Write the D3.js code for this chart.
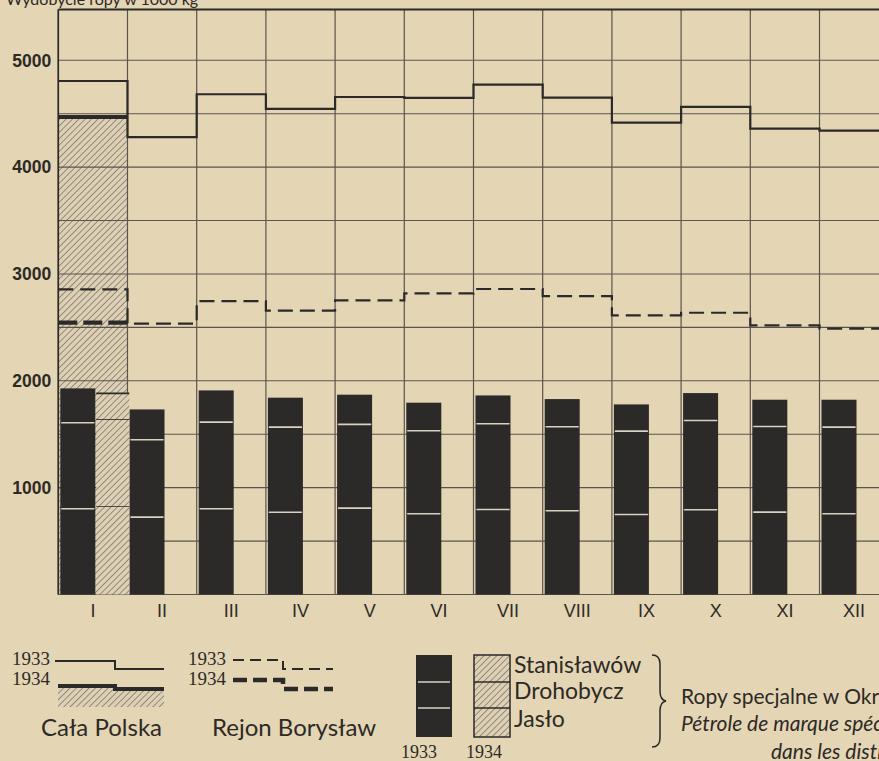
<!DOCTYPE html>
<html>
<head>
<meta charset="utf-8">
<script src="https://cdn.jsdelivr.net/npm/d3@7"></script>
<style>
  body { margin: 0; background: #e4d5b5; overflow: hidden; }
  svg { display: block; }
  text { fill: #2d2a26; }
</style>
</head>
<body>
<svg width="879" height="761"></svg>
<script>
// months
var months = ["I","II","III","IV","V","VI","VII","VIII","IX","X","XI","XII"];
// Cała Polska (step lines)
var calaPolska1933 = [4806, 4280, 4682, 4545, 4656, 4647, 4772, 4650, 4417, 4563, 4360, 4342];
var calaPolska1934 = [4469];
// Rejon Borysław (dashed step lines)
var borys1933 = [2856, 2535, 2746, 2656, 2753, 2818, 2859, 2793, 2612, 2637, 2519, 2488];
var borys1934 = [2544];
// bars: Okręgi, 1933
var jaslo1933 = [802, 724, 802, 770, 808, 756, 796, 784, 749, 793, 771, 756];
var drohobycz1933 = [805, 724, 811, 796, 784, 777, 802, 786, 780, 836, 802, 810];
var stanislawow1933 = [322, 284, 297, 276, 278, 262, 265, 259, 250, 256, 250, 257];
// bars 1934 (only January)
var jaslo1934 = [826];
var drohobycz1934 = [815];
var stanislawow1934 = [241];
var yTicks = [1000, 2000, 3000, 4000, 5000];

var ink = "#2b2a29", grid = "#5b544c";

var svg = d3.select("svg");
var defs = svg.append("defs");
var pat = defs.append("pattern").attr("id","hatch").attr("patternUnits","userSpaceOnUse")
  .attr("width",4.5).attr("height",4.5).attr("patternTransform","rotate(45)");
pat.append("rect").attr("width",4.5).attr("height",4.5).attr("fill","#ddd0b4");
pat.append("line").attr("x1",0).attr("y1",0).attr("x2",0).attr("y2",4.5)
  .attr("stroke","#6e665c").attr("stroke-width",1.3);

var x = d3.scaleBand().domain(months).range([58.3, 58.3 + 12*69.2]);
var y = d3.scaleLinear().domain([0, 5475]).range([594.5, 9.5]);
var bw = x.bandwidth();

// top text (cut off in the original)
svg.append("text").attr("x",6).attr("y",5).attr("font-family","Lato").attr("font-size",16)
  .text("Wydobycie ropy w 1000 kg");

// 1934 Cała Polska hatched area (behind grid)
var stepPts = function(arr){
  var p = arr.map(function(v,i){ return [x(months[i]), v]; });
  p.push([x(months[arr.length-1]) + bw, arr[arr.length-1]]);
  return p;
};
svg.append("path").datum(stepPts(calaPolska1934))
  .attr("d", d3.area().curve(d3.curveStepAfter).x(d=>d[0]).y0(y(0)).y1(d=>y(d[1])))
  .attr("fill","url(#hatch)");

// grid
var gridG = svg.append("g");
gridG.selectAll("line.h").data(d3.range(0, 5001, 500)).enter().append("line")
  .attr("x1", x.range()[0]).attr("x2", x.range()[1])
  .attr("y1", d=>y(d)).attr("y2", d=>y(d))
  .attr("stroke", grid).attr("stroke-width", 1.1);
gridG.selectAll("line.v").data(months.map(m=>x(m)).concat([x.range()[1]])).enter().append("line")
  .attr("x1", d=>d).attr("x2", d=>d).attr("y1", y(5475)).attr("y2", y(0))
  .attr("stroke", grid).attr("stroke-width", 1.2);
// frame
svg.append("line").attr("x1",x.range()[0]).attr("x2",x.range()[1]).attr("y1",y(5475)).attr("y2",y(5475))
  .attr("stroke",ink).attr("stroke-width",1.8);
svg.append("line").attr("x1",x.range()[0]).attr("x2",x.range()[0]).attr("y1",y(5475)).attr("y2",y(0))
  .attr("stroke",ink).attr("stroke-width",1.6);

// step lines
var stepLine = d3.line().curve(d3.curveStepAfter).x(d=>d[0]).y(d=>y(d[1]));
svg.append("path").datum(stepPts(calaPolska1933)).attr("d", stepLine)
  .attr("fill","none").attr("stroke",ink).attr("stroke-width",2.2);
svg.append("path").datum(stepPts(calaPolska1934)).attr("d", stepLine)
  .attr("fill","none").attr("stroke",ink).attr("stroke-width",4);
svg.append("path").datum(stepPts(borys1933)).attr("d", stepLine)
  .attr("fill","none").attr("stroke",ink).attr("stroke-width",2.2).attr("stroke-dasharray","15,7");
svg.append("path").datum(stepPts(borys1934)).attr("d", stepLine)
  .attr("fill","none").attr("stroke",ink).attr("stroke-width",4.2).attr("stroke-dasharray","19,6");

// bars
var keys = ["jaslo","drohobycz","stanislawow"];
var rows33 = months.map(function(m,i){ return {m:m, jaslo:jaslo1933[i], drohobycz:drohobycz1933[i], stanislawow:stanislawow1933[i]}; });
var rows34 = jaslo1934.map(function(v,i){ return {m:months[i], jaslo:jaslo1934[i], drohobycz:drohobycz1934[i], stanislawow:stanislawow1934[i]}; });
var st33 = d3.stack().keys(keys)(rows33);
var st34 = d3.stack().keys(keys)(rows34);

var b33 = svg.append("g");
st33.forEach(function(layer, li){
  b33.selectAll("rect.l"+li).data(layer).enter().append("rect")
    .attr("x", d=>x(d.data.m)+2).attr("width", 35)
    .attr("y", d=>y(d[1])).attr("height", d=>y(d[0])-y(d[1]))
    .attr("fill", ink);
});
st33.slice(0,2).forEach(function(layer){
  b33.selectAll(null).data(layer).enter().append("line")
    .attr("x1", d=>x(d.data.m)+3).attr("x2", d=>x(d.data.m)+36)
    .attr("y1", d=>y(d[1])).attr("y2", d=>y(d[1]))
    .attr("stroke","#d9d2c2").attr("stroke-width",1.6);
});
var b34 = svg.append("g");
st34.forEach(function(layer){
  b34.selectAll(null).data(layer).enter().append("rect")
    .attr("x", d=>x(d.data.m)+38).attr("width", 33)
    .attr("y", d=>y(d[1])).attr("height", d=>y(d[0])-y(d[1]))
    .attr("fill","url(#hatch)");
  b34.selectAll(null).data(layer).enter().append("line")
    .attr("x1", d=>x(d.data.m)+38).attr("x2", d=>x(d.data.m)+71)
    .attr("y1", d=>y(d[1])).attr("y2", d=>y(d[1]))
    .attr("stroke",ink).attr("stroke-width",1.6);
});

// axes
var ax = svg.append("g").attr("transform","translate(" + (x.range()[0]-5) + ",0)")
  .call(d3.axisLeft(y).tickValues(yTicks).tickSize(0).tickPadding(2).tickFormat(d3.format("d")));
ax.select(".domain").remove();
ax.selectAll("text").attr("font-family","'Liberation Sans'")
  .attr("font-weight","bold").attr("font-size",18).attr("fill","#2d2a26")
  .attr("textLength",39).attr("lengthAdjust","spacingAndGlyphs");

var bx = svg.append("g").attr("transform","translate(0," + (y(0)+4) + ")")
  .call(d3.axisBottom(x).tickSize(0).tickPadding(6));
bx.select(".domain").remove();
bx.selectAll("text").attr("font-family","'Liberation Sans'").attr("font-size",18).attr("fill","#2d2a26");

// legend: Cała Polska
var lg = svg.append("g");
var serif = "'Liberation Serif'", sans = "Lato";
lg.append("text").attr("x",12).attr("y",665).attr("font-family",serif).attr("font-size",19).text("1933");
lg.append("path").attr("d","M55,661H115V669H164").attr("fill","none").attr("stroke",ink).attr("stroke-width",2);
lg.append("text").attr("x",12).attr("y",685).attr("font-family",serif).attr("font-size",19).text("1934");
lg.append("path").attr("d","M58,686H115V689H164V707H58Z").attr("fill","url(#hatch)");
lg.append("path").attr("d","M58,686H115V689H164").attr("fill","none").attr("stroke",ink).attr("stroke-width",4);
lg.append("text").attr("x",41).attr("y",736).attr("font-family",sans).attr("font-size",24).text("Cała Polska");

// legend: Rejon Borysław
lg.append("text").attr("x",188).attr("y",665).attr("font-family",serif).attr("font-size",19).text("1933");
lg.append("path").attr("d","M233,660H283V669H333").attr("fill","none").attr("stroke",ink).attr("stroke-width",2).attr("stroke-dasharray","11,6");
lg.append("text").attr("x",188).attr("y",685).attr("font-family",serif).attr("font-size",19).text("1934");
lg.append("path").attr("d","M233,680H283V689H333").attr("fill","none").attr("stroke",ink).attr("stroke-width",4.5).attr("stroke-dasharray","14,6");
lg.append("text").attr("x",212).attr("y",736).attr("font-family",sans).attr("font-size",24).text("Rejon Borysław");

// legend: bars
lg.append("rect").attr("x",416).attr("y",655).attr("width",36).attr("height",82).attr("fill",ink);
[682,708].forEach(function(yy){
  lg.append("line").attr("x1",418).attr("x2",450).attr("y1",yy).attr("y2",yy).attr("stroke","#d9d2c2").attr("stroke-width",1.5);
});
lg.append("rect").attr("x",474).attr("y",655).attr("width",36).attr("height",82).attr("fill","url(#hatch)")
  .attr("stroke",ink).attr("stroke-width",1.5);
[682,708].forEach(function(yy){
  lg.append("line").attr("x1",474).attr("x2",510).attr("y1",yy).attr("y2",yy).attr("stroke",ink).attr("stroke-width",1.5);
});
lg.append("text").attr("x",514).attr("y",673).attr("font-family",sans).attr("font-size",23).text("Stanisławów");
lg.append("text").attr("x",514).attr("y",699).attr("font-family",sans).attr("font-size",23).text("Drohobycz");
lg.append("text").attr("x",514).attr("y",727).attr("font-family",sans).attr("font-size",23).text("Jasło");
lg.append("path").attr("d","M652,655Q660,655 660,664L660,691Q660,700 666,701Q660,702 660,711L660,738Q660,747 652,747")
  .attr("fill","none").attr("stroke",ink).attr("stroke-width",1.5);
lg.append("text").attr("x",401).attr("y",758).attr("font-family",serif).attr("font-size",18).text("1933");
lg.append("text").attr("x",466).attr("y",758).attr("font-family",serif).attr("font-size",18).text("1934");

lg.append("text").attr("x",681).attr("y",704).attr("font-family",sans).attr("font-size",21).text("Ropy specjalne w Okręgach Górniczych");
lg.append("text").attr("x",681).attr("y",731).attr("font-family",sans).attr("font-style","italic").attr("font-size",21).text("Pétrole de marque spéciale");
lg.append("text").attr("x",771).attr("y",759).attr("font-family",sans).attr("font-style","italic").attr("font-size",21).text("dans les districts miniers");
</script>
</body>
</html>
